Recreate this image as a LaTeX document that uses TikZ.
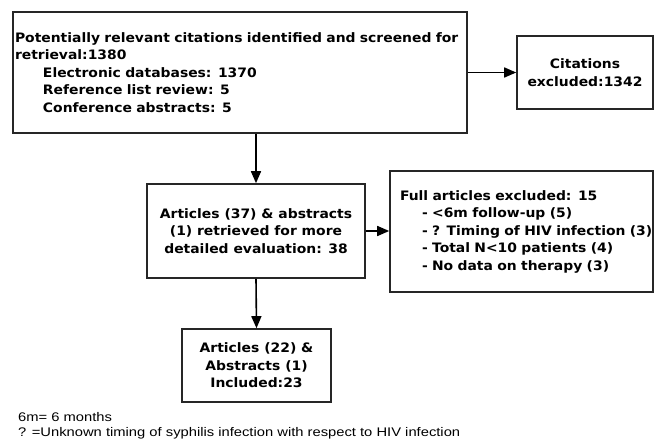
\documentclass[tikz,border=0pt]{standalone}
\usepackage{fontspec}
\setmainfont{DejaVu Sans}[BoldFeatures={FakeStretch=1.07}]
\newfontfamily\notefont{Liberation Sans}[FakeStretch=1.18]
\usetikzlibrary{arrows.meta}
\tikzset{
  box/.style={draw=black!85, line width=1.6pt, rectangle, inner sep=0pt, font=\bfseries\fontsize{13}{17.5}\selectfont},
  conn/.style={draw=black, line width=1.6pt, -{Triangle[length=12pt,width=10pt]}},
  note/.style={anchor=west, inner sep=0pt, font=\notefont\fontsize{12.5}{14}\selectfont}
}
\begin{document}
\begin{tikzpicture}[x=1pt,y=-1pt]
\useasboundingbox (0,0) rectangle (656,441);
\clip (0,0) rectangle (656,441);
\node[box, minimum width=454pt, minimum height=121pt, text width=450pt, align=left] (b1) at (240,72.5)
 {Potentially relevant citations identified and screened for\\
  retrieval:1380\\
  \hspace*{28pt}Electronic databases: 1370\\
  \hspace*{28pt}Reference list review: 5\\
  \hspace*{28pt}Conference abstracts: 5\\[3pt]};
\node[box, minimum width=136pt, minimum height=73pt, align=center] (b2) at (585,72.5)
 {Citations\\excluded:1342};
\node[box, minimum width=218pt, minimum height=94pt, align=center] (b3) at (256,231)
 {Articles (37) \& abstracts\\(1) retrieved for more\\detailed evaluation: 38};
\node[box, minimum width=263pt, minimum height=121pt, text width=243pt, align=left] (b4) at (521.5,231.5)
 {Full articles excluded: 15\\
  \hspace*{22pt}- <6m follow-up (5)\\
  \hspace*{22pt}\rlap{- ? Timing of HIV infection (3)}\\
  \hspace*{22pt}- Total N<10 patients (4)\\
  \hspace*{22pt}- No data on therapy (3)\\[18pt]};
\node[box, minimum width=149pt, minimum height=73pt, align=center] (b5) at (256.5,365.5)
 {Articles (22) \&\\Abstracts (1)\\Included:23};
\draw[conn] (b1.east |- b2.west) -- (b2.west);
\draw[conn] (b1.south -| b3.north) -- (b3.north);
\draw[conn] (b3.east) -- (b3.east -| b4.west);
\draw[conn] (b3.south) -- (b5.north);
\node[note] (n1) at (18,417) {6m= 6 months};
\node[note] (n2) at (18,433) {? =Unknown timing of syphilis infection with respect to HIV infection};
\end{tikzpicture}
\end{document}
